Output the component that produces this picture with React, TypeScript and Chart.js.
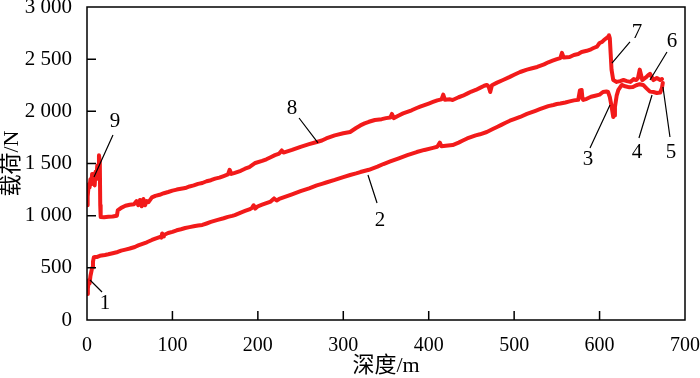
import React, { useEffect, useRef } from 'react';
import { Chart, registerables } from 'chart.js';

Chart.register(...registerables);

// ---- data ----
const upperDepth = [0, 0.5, 1, 2, 3, 4, 5, 6, 7, 8, 9, 10, 11, 12, 13, 14, 15, 15.5, 16, 20, 25, 30, 35, 36, 40, 45, 50, 55, 58, 60, 62, 64, 66, 68, 70, 72, 76, 80, 85, 90, 95, 100, 105, 110, 115, 120, 125, 130, 135, 140, 145, 150, 155, 160, 165, 167, 169, 173, 180, 185, 190, 197, 205, 210, 215, 220, 225, 228, 230, 240, 250, 260, 269, 275, 280, 290, 300, 308, 315, 320, 325, 330, 337, 345, 350, 355, 357, 359, 365, 370, 375, 380, 386, 390, 395, 400, 405, 410, 415, 417, 419, 425, 428, 435, 440, 445, 450, 455, 460, 465, 468, 470, 472, 474, 480, 487, 495, 500, 507, 515, 520, 527, 535, 540, 545, 550, 554, 556, 558, 565, 570, 575, 579, 585, 590, 593, 597, 600, 603, 606, 608, 610, 611, 612, 613, 614, 616, 620, 624, 628, 632, 636, 640, 643, 645, 647, 650, 655, 657, 659, 663, 667, 671, 673];
const upperLoad = [1100, 1250, 1180, 1300, 1270, 1350, 1300, 1400, 1320, 1380, 1290, 1420, 1350, 1480, 1400, 1580, 1520, 1100, 988, 985, 990, 992, 1000, 1050, 1075, 1095, 1105, 1110, 1140, 1100, 1150, 1090, 1160, 1100, 1140, 1130, 1175, 1190, 1200, 1215, 1227, 1240, 1250, 1258, 1265, 1280, 1290, 1305, 1313, 1330, 1340, 1355, 1365, 1380, 1395, 1440, 1400, 1410, 1430, 1450, 1465, 1505, 1525, 1540, 1560, 1580, 1595, 1625, 1605, 1630, 1660, 1685, 1706, 1720, 1740, 1770, 1790, 1802, 1840, 1865, 1885, 1900, 1917, 1925, 1935, 1940, 1975, 1935, 1960, 1980, 1995, 2010, 2032, 2045, 2060, 2075, 2090, 2105, 2115, 2160, 2110, 2115, 2109, 2135, 2150, 2170, 2190, 2205, 2225, 2245, 2253, 2240, 2185, 2250, 2275, 2300, 2330, 2350, 2377, 2400, 2410, 2425, 2450, 2470, 2485, 2500, 2510, 2560, 2515, 2521, 2540, 2550, 2569, 2580, 2595, 2607, 2620, 2655, 2665, 2690, 2700, 2715, 2730, 2700, 2550, 2400, 2300, 2282, 2290, 2300, 2290, 2282, 2310, 2300, 2320, 2400, 2300, 2330, 2348, 2360, 2300, 2320, 2300, 2310, 2300];

const lowerDepth = [0, 1, 2, 3, 4, 5, 6, 7, 8, 9, 12, 15, 21, 25, 30, 36, 40, 45, 50, 56, 60, 65, 70, 76, 80, 85, 87, 88, 89, 90, 95, 100, 105, 110, 115, 120, 125, 130, 135, 140, 145, 150, 153, 160, 165, 170, 173, 180, 185, 190, 193, 195, 197, 200, 205, 210, 215, 219, 222, 225, 230, 240, 250, 260, 269, 275, 280, 290, 300, 308, 315, 320, 330, 340, 347, 355, 365, 375, 386, 395, 405, 410, 413, 415, 420, 428, 435, 440, 445, 450, 455, 460, 468, 475, 480, 485, 490, 495, 500, 507, 515, 520, 525, 530, 535, 540, 546, 550, 554, 560, 565, 570, 575, 577, 579, 580, 581, 585, 590, 595, 600, 604, 608, 610, 612, 614, 616, 617, 618, 620, 622, 626, 630, 635, 639, 643, 647, 651, 655, 659, 663, 667, 671, 673, 674];
const lowerLoad = [250, 300, 380, 350, 420, 460, 500, 560, 600, 604, 605, 615, 623, 630, 640, 652, 665, 675, 685, 700, 715, 730, 745, 767, 780, 795, 790, 830, 800, 815, 834, 845, 860, 870, 882, 890, 898, 905, 911, 925, 940, 952, 959, 975, 988, 998, 1006, 1030, 1045, 1060, 1073, 1100, 1068, 1090, 1105, 1120, 1135, 1165, 1145, 1160, 1175, 1205, 1235, 1262, 1290, 1305, 1318, 1343, 1370, 1390, 1405, 1418, 1440, 1470, 1495, 1520, 1550, 1580, 1610, 1630, 1650, 1660, 1700, 1665, 1670, 1677, 1700, 1720, 1740, 1755, 1770, 1780, 1802, 1830, 1850, 1870, 1890, 1910, 1925, 1946, 1975, 1990, 2005, 2020, 2035, 2050, 2061, 2070, 2075, 2085, 2095, 2105, 2110, 2200, 2205, 2120, 2109, 2120, 2140, 2150, 2160, 2185, 2190, 2185, 2137, 2050, 1946, 1960, 2042, 2150, 2205, 2253, 2240, 2230, 2233, 2250, 2260, 2253, 2220, 2189, 2185, 2176, 2180, 2224, 2272];

const xTicks = [0, 100, 200, 300, 400, 500, 600, 700];
const yTicks = [0, 500, 1000, 1500, 2000, 2500, 3000];
const yTickLabels = ['0', '500', '1 000', '1 500', '2 000', '2 500', '3 000'];
const xTitle = '深度/m';
const yTitle = '载荷/N';

// callouts: label, label position, leader line start, leader line end (data coords)
const calloutLabels = ['1', '2', '3', '4', '5', '6', '7', '8', '9'];
const calloutAt = [[21, 163], [343, 958], [586.5, 1534], [643.8, 1601], [683.6, 1601], [684.8, 2665], [643.8, 2751], [240, 2032], [32.8, 1898]];
const calloutFrom = [[17.6, 268], [339.5, 1121], [588.8, 1649], [646.1, 1744], [682.4, 1754], [678.9, 2569], [635.6, 2665], [248.2, 1936], [30.4, 1773]];
const calloutTo = [[3.5, 383], [328.9, 1390], [612.2, 2061], [661.4, 2157], [674.2, 2233], [659, 2300], [614.5, 2463], [270.4, 1697], [8.2, 1371]];

const RED = '#f21a1a';
const SERIF = '"Liberation Serif", "DejaVu Serif", serif';
const TITLE_FONT = '"Liberation Serif", "Noto Sans CJK SC", serif';

const framePlugin = {
  id: 'framePlugin',
  afterDatasetsDraw(chart: any) {
    const { ctx, chartArea, scales } = chart;
    const { left, right, top, bottom } = chartArea;
    const xs = scales.x;
    const ys = scales.y;
    ctx.save();
    ctx.strokeStyle = '#000';
    ctx.lineWidth = 1.5;
    ctx.strokeRect(left, top, right - left, bottom - top);
    const tl = 9;
    ctx.beginPath();
    xTicks.slice(1, -1).forEach((v) => {
      const px = xs.getPixelForValue(v);
      ctx.moveTo(px, bottom);
      ctx.lineTo(px, bottom - tl);
    });
    yTicks.slice(1, -1).forEach((v) => {
      const py = ys.getPixelForValue(v);
      ctx.moveTo(left, py);
      ctx.lineTo(left + tl, py);
    });
    ctx.stroke();

    ctx.lineWidth = 1.2;
    ctx.beginPath();
    calloutLabels.forEach((_, i) => {
      ctx.moveTo(xs.getPixelForValue(calloutFrom[i][0]), ys.getPixelForValue(calloutFrom[i][1]));
      ctx.lineTo(xs.getPixelForValue(calloutTo[i][0]), ys.getPixelForValue(calloutTo[i][1]));
    });
    ctx.stroke();

    ctx.fillStyle = '#000';
    ctx.font = '21px ' + SERIF;
    ctx.textAlign = 'center';
    ctx.textBaseline = 'middle';
    calloutLabels.forEach((t, i) => {
      ctx.fillText(t, xs.getPixelForValue(calloutAt[i][0]), ys.getPixelForValue(calloutAt[i][1]));
    });
    ctx.restore();
  },
};

export default function App() {
  const ref = useRef<HTMLCanvasElement>(null);
  useEffect(() => {
    document.body.style.margin = '0';
    const canvas = ref.current;
    if (!canvas) return;
    const upper = upperDepth.map((x, i) => ({ x, y: upperLoad[i] }));
    const lower = lowerDepth.map((x, i) => ({ x, y: lowerLoad[i] }));
    const chart = new Chart(canvas, {
      type: 'line',
      data: {
        datasets: [
          { data: upper, borderColor: RED, borderWidth: 4, pointRadius: 0, tension: 0, borderJoinStyle: 'round', borderCapStyle: 'round' },
          { data: lower, borderColor: RED, borderWidth: 4, pointRadius: 0, tension: 0, borderJoinStyle: 'round', borderCapStyle: 'round' },
        ],
      },
      options: {
        animation: false,
        responsive: false,
        maintainAspectRatio: false,
        layout: { padding: { left: 0, right: 15, top: 7, bottom: 0 } },
        plugins: { legend: { display: false }, tooltip: { enabled: false } },
        scales: {
          x: {
            type: 'linear',
            min: 0,
            max: 700,
            grid: { display: false },
            border: { display: false },
            afterBuildTicks: (s: any) => { s.ticks = xTicks.map((v) => ({ value: v })); },
            afterFit: (s: any) => { s.height = 58; s.paddingLeft = 0; s.paddingRight = 0; },
            ticks: {
              color: '#000',
              padding: 6,
              maxRotation: 0,
              autoSkip: false,
              font: { family: SERIF, size: 20 },
              callback: (v: any) => String(v),
            },
            title: {
              display: true,
              text: xTitle,
              color: '#000',
              padding: { top: 0, bottom: 0 },
              font: { family: TITLE_FONT, size: 22, lineHeight: 1.1 },
            },
          },
          y: {
            type: 'linear',
            min: 0,
            max: 3000,
            grid: { display: false },
            border: { display: false },
            afterBuildTicks: (s: any) => { s.ticks = yTicks.map((v) => ({ value: v })); },
            afterFit: (s: any) => { s.width = 87; s.paddingTop = 0; s.paddingBottom = 0; },
            ticks: {
              color: '#000',
              padding: 7,
              autoSkip: false,
              font: { family: SERIF, size: 21 },
              callback: (v: any) => {
                const i = yTicks.indexOf(Number(v));
                return i >= 0 ? yTickLabels[i] : '';
              },
            },
            title: {
              display: true,
              text: yTitle,
              color: '#000',
              padding: { top: 0, bottom: 0 },
              font: { family: TITLE_FONT, size: 22, lineHeight: 1.1 },
            },
          },
        },
      },
      plugins: [framePlugin],
    });
    return () => chart.destroy();
  }, []);
  return <canvas ref={ref} width={700} height={378} style={{ display: 'block' }} />;
}
